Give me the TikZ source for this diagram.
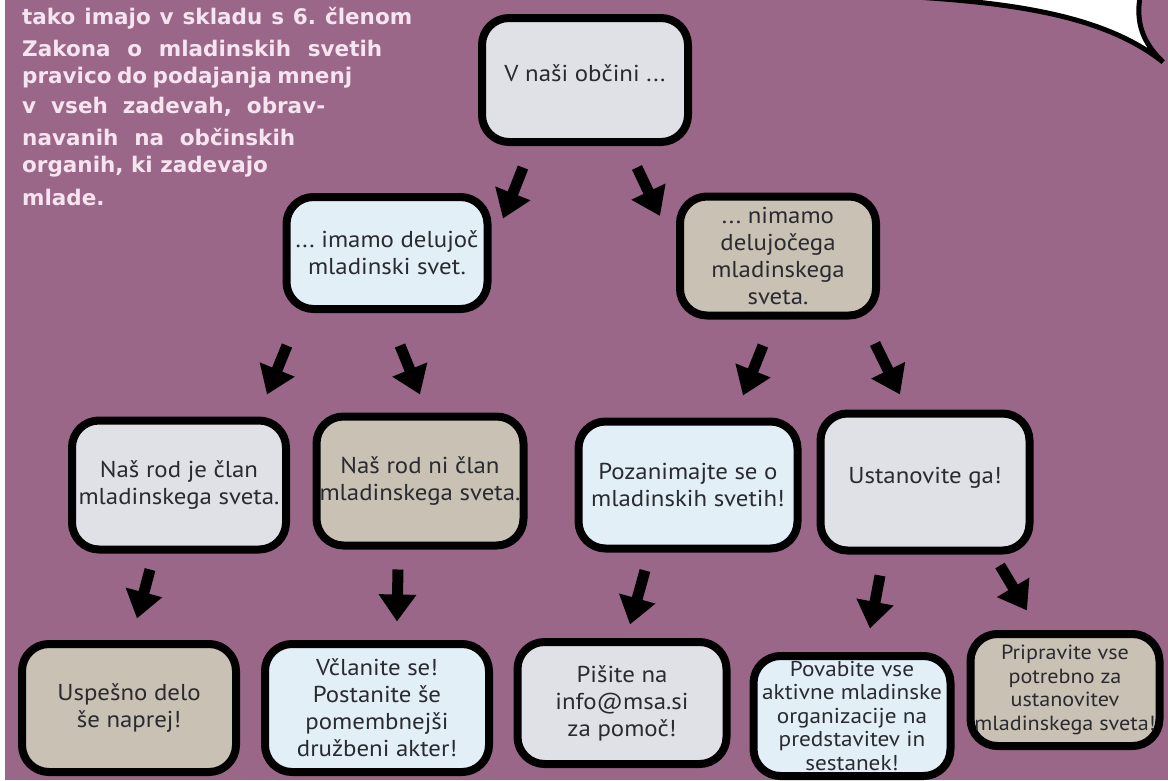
\documentclass[tikz,border=0pt]{standalone}
\usepackage{fontspec}
\setmainfont[FakeStretch=1.08]{PT Sans}
\newfontfamily\introfont{DejaVu Sans}
\usetikzlibrary{arrows.meta,calc}
\definecolor{bg}{RGB}{155,103,136}
\definecolor{boxgrey}{RGB}{223,225,230}
\definecolor{boxblue}{RGB}{226,239,247}
\definecolor{boxbeige}{RGB}{200,193,180}
\definecolor{txt}{RGB}{42,42,48}
\definecolor{intro}{RGB}{247,228,241}
\frenchspacing
\begin{document}
\begin{tikzpicture}[x=1pt,y=-1pt,
  box/.style={draw=black, line width=8pt, rounded corners=27pt, align=center,
    font=\fontsize{23}{27}\selectfont, text=txt, inner sep=1pt},
  greybox/.style={box, fill=boxgrey},
  bluebox/.style={box, fill=boxblue},
  beigebox/.style={box, fill=boxbeige},
  tight/.style={font=\fontsize{21.5}{23.5}\selectfont},
  tighter/.style={font=\fontsize{20.5}{23.5}\selectfont},
  arr/.style={draw=black, line width=11pt, -{Triangle[length=27pt,width=36pt]}},
  introline/.style={anchor=west, inner sep=0pt, text=intro, font=\introfont\bfseries\fontsize{21.5}{30}\selectfont}]
\useasboundingbox (0,0) rectangle (1168,780);
\fill[bg] (0,0) rectangle (1168,780);
\fill[white] (0,0) rectangle (5,780);
% speech bubble
\fill[white] (915,-3) .. controls (1030,4) and (1110,20) .. (1163,62)
  .. controls (1142,42) and (1136,22) .. (1140,-3) -- cycle;
\draw[line width=5pt, line cap=round] (915,-3) .. controls (1030,4) and (1110,20) .. (1163,62)
  .. controls (1142,42) and (1136,22) .. (1140,-3);
% intro text
\node[introline] (i1) at (22,18) {\makebox[390pt][s]{tako imajo v skladu s 6. členom}};
\node[introline] (i2) at (22,48) {\makebox[360pt][s]{Zakona o mladinskih svetih}};
\node[introline] (i3) at (22,78) {\makebox[330pt][s]{pravico do podajanja mnenj}};
\node[introline] (i4) at (22,107) {\makebox[303pt][s]{v vseh zadevah, obrav-}};
\node[introline] (i5) at (22,137) {\makebox[273pt][s]{navanih na občinskih}};
\node[introline] (i6) at (22,167) {organih, ki zadevajo};
\node[introline] (i7) at (22,197) {mlade.};
% boxes
\node[greybox, minimum width=206pt, minimum height=124pt] (v) at (585,80) {V naši občini ...\\[-14pt]\mbox{}};
\node[bluebox, minimum width=201pt, minimum height=112pt] (imamo) at (387,253) {... imamo delujoč\\mladinski svet.};
\node[beigebox, minimum width=196pt, minimum height=119pt] (nimamo) at (778,256) {... nimamo\\delujočega\\mladinskega\\sveta.};
\node[greybox, minimum width=214pt, minimum height=129pt] (a) at (179,485) {Naš rod je član\\mladinskega sveta.};
\node[beigebox, minimum width=207pt, minimum height=129pt] (b) at (420,481) {Naš rod ni član\\mladinskega sveta.};
\node[bluebox, minimum width=219pt, minimum height=127pt] (c) at (688,485) {Pozanimajte se o\\mladinskih svetih!};
\node[greybox, minimum width=209pt, minimum height=137pt] (d) at (925,482) {Ustanovite ga!\\[-14pt]\mbox{}};
\node[beigebox, minimum width=214pt, minimum height=128pt] (e) at (129,708) {Uspešno delo\\še naprej!};
\node[bluebox, minimum width=224pt, minimum height=128pt] (f) at (377,708) {Včlanite se!\\Postanite še\\pomembnejši\\družbeni akter!};
\node[greybox, minimum width=209pt, minimum height=122pt] (g) at (622,703) {Pišite na\\info@msa.si\\za pomoč!};
\node[bluebox, tight, minimum width=197pt, minimum height=120pt, inner sep=0pt] (h) at (852,716) {Povabite vse\\aktivne mladinske\\organizacije na\\predstavitev in\\sestanek!};
\node[beigebox, tighter, minimum width=189pt, minimum height=112pt, inner sep=0pt] (i) at (1065,690) {Pripravite vse\\potrebno za\\ustanovitev\\mladinskega sveta!};
% arrows
\draw[arr] ($(v.south)+(-62,21.5)$) -- ($(imamo.north)+(116,25.5)$);
\draw[arr] ($(v.south)+(52,21.5)$) -- ($(nimamo.north)+(-118,23.5)$);
\draw[arr] ($(imamo.south)+(-100,32.5)$) -- ($(a.north)+(88,-22)$);
\draw[arr] ($(imamo.south)+(13,32.5)$) -- ($(b.north)+(0,-18)$);
\draw[arr] ($(nimamo.south)+(-15,26)$) -- ($(c.north)+(55,-22)$);
\draw[arr] ($(nimamo.south)+(97,24)$) -- ($(d.north)+(-25,-15)$);
\draw[arr] ($(a.south)+(-29,16)$) -- ($(e.north)+(8,-21.5)$);
\draw[arr] ($(b.south)+(-22,20)$) -- ($(f.north)+(20,-18.5)$);
\draw[arr] ($(c.south)+(-43,18)$) -- ($(g.north)+(8,-13.5)$);
\draw[arr] ($(d.south)+(-45,21)$) -- ($(h.north)+(18,-23.5)$);
\draw[arr] ($(d.south)+(75,11)$) -- ($(i.north)+(-38,-19.5)$);
\end{tikzpicture}
\end{document}
